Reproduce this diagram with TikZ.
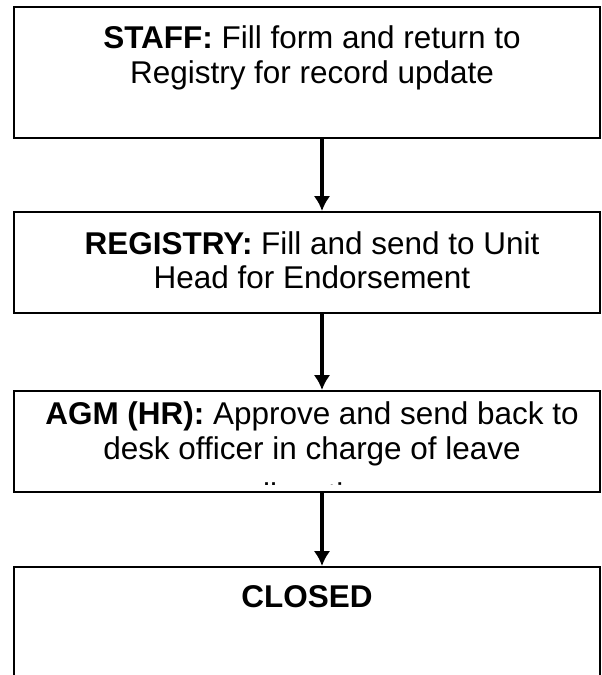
\documentclass[tikz,border=0pt]{standalone}
\usepackage{fontspec}
\setmainfont{Liberation Sans}
\usetikzlibrary{calc,arrows.meta}

\begin{document}
\begin{tikzpicture}[
  x=0.75pt, y=-0.75pt,
  %every node/.style={draw=red},
  ]
  \tikzstyle{flow box}=[rectangle,draw,line width=1.5pt,inner sep=0,minimum width=439.5pt]
  \tikzstyle{flow text}=[align=center,inner sep=0,anchor=north,font=\fontsize{23.6}{25.9}\selectfont]
  \tikzstyle{flow arrow}=[-{Latex[length=11.25pt,width=12.5pt]},line width=2.4pt]
  \useasboundingbox (0,0) rectangle (601,675);
  % boxes
  \node(staff)[flow box, minimum height=98.25pt] at (307,72.5) {};
  \node(registry)[flow box, minimum height=75.75pt] at (307,262.5) {};
  \node(agm)[flow box, minimum height=75.75pt] at (307,441.5) {};
  \node(closed)[flow box, minimum height=112.5pt] at (307,642) {};
  % texts
  \node(t1)[flow text] at ($(staff.north)+(5,19.5)$)
      {\textbf{STAFF:} Fill form and return to\\Registry for record update};
  \node(t2)[flow text] at ($(registry.north)+(5,20)$)
      {\textbf{REGISTRY:} Fill and send to Unit\\Head for Endorsement};
  \begin{scope}
    \clip ($(agm.north west)$) rectangle ($(agm.south east)+(0,-9)$);
    \node(t3)[flow text] at ($(agm.north)+(5,11.5)$)
        {\textbf{AGM (HR):} Approve and send back to\\desk officer in charge of leave\\[9pt]allocation};
  \end{scope}
  \node(t4)[flow text] at ($(closed.north)+(0,19.5)$) {\textbf{CLOSED}};
  % arrows
  \draw[flow arrow] ($(staff.south)+(15,0)$) -- ($(registry.north)+(15,0)$);
  \draw[flow arrow] ($(registry.south)+(15,0)$) -- ($(agm.north)+(15,0)$);
  \draw[flow arrow] ($(agm.south)+(15,0)$) -- ($(closed.north)+(15,0)$);
\end{tikzpicture}
\end{document}
